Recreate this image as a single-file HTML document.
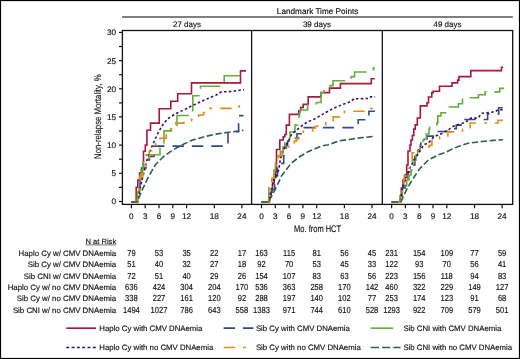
<!DOCTYPE html><html><head><meta charset="utf-8"><style>html,body{margin:0;padding:0;background:#fff;}svg{display:block}</style></head><body>
<svg width="520" height="359" viewBox="0 0 520 359" style="font-family:'Liberation Sans', sans-serif;text-rendering:geometricPrecision;will-change:transform">
<style>text{stroke:#111;stroke-width:0.15px}</style>
<rect x="0" y="0" width="520" height="359" fill="#fff"/>
<rect x="0.5" y="0.5" width="519" height="358" fill="none" stroke="#000" stroke-width="1.2"/>
<text x="317.6" y="14.2" font-size="8.2" text-anchor="middle" fill="#111">Landmark Time Points</text>
<line x1="122" y1="16.9" x2="512.8" y2="16.9" stroke="#555" stroke-width="1.5"/>
<text x="187.0" y="27.1" font-size="8" text-anchor="middle" fill="#111">27 days</text>
<text x="316.9" y="27.1" font-size="8" text-anchor="middle" fill="#111">39 days</text>
<text x="447.5" y="27.1" font-size="8" text-anchor="middle" fill="#111">49 days</text>
<rect x="122.4" y="30.5" width="390.3" height="173.9" fill="none" stroke="#111" stroke-width="1.3"/>
<line x1="251.6" y1="30.5" x2="251.6" y2="204.4" stroke="#111" stroke-width="1.3"/>
<line x1="382.3" y1="30.5" x2="382.3" y2="204.4" stroke="#111" stroke-width="1.3"/>
<line x1="119" y1="201.5" x2="122.4" y2="201.5" stroke="#111" stroke-width="1.2"/>
<text x="116" y="204.4" font-size="8.2" text-anchor="end" fill="#111">0</text>
<line x1="119" y1="187.4" x2="122.4" y2="187.4" stroke="#111" stroke-width="1.2"/>
<line x1="119" y1="173.3" x2="122.4" y2="173.3" stroke="#111" stroke-width="1.2"/>
<text x="116" y="176.2" font-size="8.2" text-anchor="end" fill="#111">5</text>
<line x1="119" y1="159.2" x2="122.4" y2="159.2" stroke="#111" stroke-width="1.2"/>
<line x1="119" y1="145.1" x2="122.4" y2="145.1" stroke="#111" stroke-width="1.2"/>
<text x="116" y="148.0" font-size="8.2" text-anchor="end" fill="#111">10</text>
<line x1="119" y1="131.0" x2="122.4" y2="131.0" stroke="#111" stroke-width="1.2"/>
<line x1="119" y1="116.9" x2="122.4" y2="116.9" stroke="#111" stroke-width="1.2"/>
<text x="116" y="119.8" font-size="8.2" text-anchor="end" fill="#111">15</text>
<line x1="119" y1="102.9" x2="122.4" y2="102.9" stroke="#111" stroke-width="1.2"/>
<line x1="119" y1="88.8" x2="122.4" y2="88.8" stroke="#111" stroke-width="1.2"/>
<text x="116" y="91.7" font-size="8.2" text-anchor="end" fill="#111">20</text>
<line x1="119" y1="74.7" x2="122.4" y2="74.7" stroke="#111" stroke-width="1.2"/>
<line x1="119" y1="60.6" x2="122.4" y2="60.6" stroke="#111" stroke-width="1.2"/>
<text x="116" y="63.5" font-size="8.2" text-anchor="end" fill="#111">25</text>
<line x1="119" y1="46.5" x2="122.4" y2="46.5" stroke="#111" stroke-width="1.2"/>
<line x1="119" y1="32.4" x2="122.4" y2="32.4" stroke="#111" stroke-width="1.2"/>
<text x="116" y="35.3" font-size="8.2" text-anchor="end" fill="#111">30</text>
<line x1="131.4" y1="204.4" x2="131.4" y2="208.2" stroke="#111" stroke-width="1.2"/>
<text x="131.4" y="218.8" font-size="8.2" text-anchor="middle" fill="#111">0</text>
<line x1="145.2" y1="204.4" x2="145.2" y2="208.2" stroke="#111" stroke-width="1.2"/>
<text x="145.2" y="218.8" font-size="8.2" text-anchor="middle" fill="#111">3</text>
<line x1="159.0" y1="204.4" x2="159.0" y2="208.2" stroke="#111" stroke-width="1.2"/>
<text x="159.0" y="218.8" font-size="8.2" text-anchor="middle" fill="#111">6</text>
<line x1="172.8" y1="204.4" x2="172.8" y2="208.2" stroke="#111" stroke-width="1.2"/>
<text x="172.8" y="218.8" font-size="8.2" text-anchor="middle" fill="#111">9</text>
<line x1="186.6" y1="204.4" x2="186.6" y2="208.2" stroke="#111" stroke-width="1.2"/>
<text x="186.6" y="218.8" font-size="8.2" text-anchor="middle" fill="#111">12</text>
<line x1="214.3" y1="204.4" x2="214.3" y2="208.2" stroke="#111" stroke-width="1.2"/>
<text x="214.3" y="218.8" font-size="8.2" text-anchor="middle" fill="#111">18</text>
<line x1="241.9" y1="204.4" x2="241.9" y2="208.2" stroke="#111" stroke-width="1.2"/>
<text x="241.9" y="218.8" font-size="8.2" text-anchor="middle" fill="#111">24</text>
<line x1="261.5" y1="204.4" x2="261.5" y2="208.2" stroke="#111" stroke-width="1.2"/>
<text x="261.5" y="218.8" font-size="8.2" text-anchor="middle" fill="#111">0</text>
<line x1="275.3" y1="204.4" x2="275.3" y2="208.2" stroke="#111" stroke-width="1.2"/>
<text x="275.3" y="218.8" font-size="8.2" text-anchor="middle" fill="#111">3</text>
<line x1="289.1" y1="204.4" x2="289.1" y2="208.2" stroke="#111" stroke-width="1.2"/>
<text x="289.1" y="218.8" font-size="8.2" text-anchor="middle" fill="#111">6</text>
<line x1="302.9" y1="204.4" x2="302.9" y2="208.2" stroke="#111" stroke-width="1.2"/>
<text x="302.9" y="218.8" font-size="8.2" text-anchor="middle" fill="#111">9</text>
<line x1="316.7" y1="204.4" x2="316.7" y2="208.2" stroke="#111" stroke-width="1.2"/>
<text x="316.7" y="218.8" font-size="8.2" text-anchor="middle" fill="#111">12</text>
<line x1="344.4" y1="204.4" x2="344.4" y2="208.2" stroke="#111" stroke-width="1.2"/>
<text x="344.4" y="218.8" font-size="8.2" text-anchor="middle" fill="#111">18</text>
<line x1="372.0" y1="204.4" x2="372.0" y2="208.2" stroke="#111" stroke-width="1.2"/>
<text x="372.0" y="218.8" font-size="8.2" text-anchor="middle" fill="#111">24</text>
<line x1="391.6" y1="204.4" x2="391.6" y2="208.2" stroke="#111" stroke-width="1.2"/>
<text x="391.6" y="218.8" font-size="8.2" text-anchor="middle" fill="#111">0</text>
<line x1="405.4" y1="204.4" x2="405.4" y2="208.2" stroke="#111" stroke-width="1.2"/>
<text x="405.4" y="218.8" font-size="8.2" text-anchor="middle" fill="#111">3</text>
<line x1="419.2" y1="204.4" x2="419.2" y2="208.2" stroke="#111" stroke-width="1.2"/>
<text x="419.2" y="218.8" font-size="8.2" text-anchor="middle" fill="#111">6</text>
<line x1="433.0" y1="204.4" x2="433.0" y2="208.2" stroke="#111" stroke-width="1.2"/>
<text x="433.0" y="218.8" font-size="8.2" text-anchor="middle" fill="#111">9</text>
<line x1="446.8" y1="204.4" x2="446.8" y2="208.2" stroke="#111" stroke-width="1.2"/>
<text x="446.8" y="218.8" font-size="8.2" text-anchor="middle" fill="#111">12</text>
<line x1="474.5" y1="204.4" x2="474.5" y2="208.2" stroke="#111" stroke-width="1.2"/>
<text x="474.5" y="218.8" font-size="8.2" text-anchor="middle" fill="#111">18</text>
<line x1="502.1" y1="204.4" x2="502.1" y2="208.2" stroke="#111" stroke-width="1.2"/>
<text x="502.1" y="218.8" font-size="8.2" text-anchor="middle" fill="#111">24</text>
<text x="0" y="0" font-size="9.6" text-anchor="middle" fill="#111" transform="translate(317.6 231.9) scale(0.78 1)">Mo. from HCT</text>
<text x="0" y="0" font-size="9.6" text-anchor="middle" fill="#111" transform="translate(101.3 116.7) rotate(-90) scale(0.81 1)">Non-relapse Mortality, %</text>
<text x="116.2" y="243.8" font-size="7.6" text-anchor="end" fill="#111">N at Risk</text>
<line x1="85.6" y1="244.9" x2="116.3" y2="244.9" stroke="#333" stroke-width="0.7"/>
<text x="116.2" y="255.8" font-size="7.85" text-anchor="end" fill="#111">Haplo Cy w/ CMV DNAemia</text>
<text x="0" y="0" font-size="8.7" text-anchor="middle" fill="#111" transform="translate(131.4 255.8) scale(0.87 1)">79</text>
<text x="0" y="0" font-size="8.7" text-anchor="middle" fill="#111" transform="translate(159.0 255.8) scale(0.87 1)">53</text>
<text x="0" y="0" font-size="8.7" text-anchor="middle" fill="#111" transform="translate(186.6 255.8) scale(0.87 1)">35</text>
<text x="0" y="0" font-size="8.7" text-anchor="middle" fill="#111" transform="translate(214.3 255.8) scale(0.87 1)">22</text>
<text x="0" y="0" font-size="8.7" text-anchor="middle" fill="#111" transform="translate(241.9 255.8) scale(0.87 1)">17</text>
<text x="0" y="0" font-size="8.7" text-anchor="middle" fill="#111" transform="translate(261.5 255.8) scale(0.87 1)">163</text>
<text x="0" y="0" font-size="8.7" text-anchor="middle" fill="#111" transform="translate(289.1 255.8) scale(0.87 1)">115</text>
<text x="0" y="0" font-size="8.7" text-anchor="middle" fill="#111" transform="translate(316.7 255.8) scale(0.87 1)">81</text>
<text x="0" y="0" font-size="8.7" text-anchor="middle" fill="#111" transform="translate(344.4 255.8) scale(0.87 1)">56</text>
<text x="0" y="0" font-size="8.7" text-anchor="middle" fill="#111" transform="translate(372.0 255.8) scale(0.87 1)">45</text>
<text x="0" y="0" font-size="8.7" text-anchor="middle" fill="#111" transform="translate(391.6 255.8) scale(0.87 1)">231</text>
<text x="0" y="0" font-size="8.7" text-anchor="middle" fill="#111" transform="translate(419.2 255.8) scale(0.87 1)">154</text>
<text x="0" y="0" font-size="8.7" text-anchor="middle" fill="#111" transform="translate(446.8 255.8) scale(0.87 1)">109</text>
<text x="0" y="0" font-size="8.7" text-anchor="middle" fill="#111" transform="translate(474.5 255.8) scale(0.87 1)">77</text>
<text x="0" y="0" font-size="8.7" text-anchor="middle" fill="#111" transform="translate(502.1 255.8) scale(0.87 1)">59</text>
<text x="116.2" y="267.2" font-size="7.85" text-anchor="end" fill="#111">Sib Cy w/ CMV DNAemia</text>
<text x="0" y="0" font-size="8.7" text-anchor="middle" fill="#111" transform="translate(131.4 267.2) scale(0.87 1)">51</text>
<text x="0" y="0" font-size="8.7" text-anchor="middle" fill="#111" transform="translate(159.0 267.2) scale(0.87 1)">40</text>
<text x="0" y="0" font-size="8.7" text-anchor="middle" fill="#111" transform="translate(186.6 267.2) scale(0.87 1)">32</text>
<text x="0" y="0" font-size="8.7" text-anchor="middle" fill="#111" transform="translate(214.3 267.2) scale(0.87 1)">27</text>
<text x="0" y="0" font-size="8.7" text-anchor="middle" fill="#111" transform="translate(241.9 267.2) scale(0.87 1)">18</text>
<text x="0" y="0" font-size="8.7" text-anchor="middle" fill="#111" transform="translate(261.5 267.2) scale(0.87 1)">92</text>
<text x="0" y="0" font-size="8.7" text-anchor="middle" fill="#111" transform="translate(289.1 267.2) scale(0.87 1)">70</text>
<text x="0" y="0" font-size="8.7" text-anchor="middle" fill="#111" transform="translate(316.7 267.2) scale(0.87 1)">53</text>
<text x="0" y="0" font-size="8.7" text-anchor="middle" fill="#111" transform="translate(344.4 267.2) scale(0.87 1)">45</text>
<text x="0" y="0" font-size="8.7" text-anchor="middle" fill="#111" transform="translate(372.0 267.2) scale(0.87 1)">33</text>
<text x="0" y="0" font-size="8.7" text-anchor="middle" fill="#111" transform="translate(391.6 267.2) scale(0.87 1)">122</text>
<text x="0" y="0" font-size="8.7" text-anchor="middle" fill="#111" transform="translate(419.2 267.2) scale(0.87 1)">93</text>
<text x="0" y="0" font-size="8.7" text-anchor="middle" fill="#111" transform="translate(446.8 267.2) scale(0.87 1)">70</text>
<text x="0" y="0" font-size="8.7" text-anchor="middle" fill="#111" transform="translate(474.5 267.2) scale(0.87 1)">56</text>
<text x="0" y="0" font-size="8.7" text-anchor="middle" fill="#111" transform="translate(502.1 267.2) scale(0.87 1)">41</text>
<text x="116.2" y="278.6" font-size="7.85" text-anchor="end" fill="#111">Sib CNI w/ CMV DNAemia</text>
<text x="0" y="0" font-size="8.7" text-anchor="middle" fill="#111" transform="translate(131.4 278.6) scale(0.87 1)">72</text>
<text x="0" y="0" font-size="8.7" text-anchor="middle" fill="#111" transform="translate(159.0 278.6) scale(0.87 1)">51</text>
<text x="0" y="0" font-size="8.7" text-anchor="middle" fill="#111" transform="translate(186.6 278.6) scale(0.87 1)">40</text>
<text x="0" y="0" font-size="8.7" text-anchor="middle" fill="#111" transform="translate(214.3 278.6) scale(0.87 1)">29</text>
<text x="0" y="0" font-size="8.7" text-anchor="middle" fill="#111" transform="translate(241.9 278.6) scale(0.87 1)">26</text>
<text x="0" y="0" font-size="8.7" text-anchor="middle" fill="#111" transform="translate(261.5 278.6) scale(0.87 1)">154</text>
<text x="0" y="0" font-size="8.7" text-anchor="middle" fill="#111" transform="translate(289.1 278.6) scale(0.87 1)">107</text>
<text x="0" y="0" font-size="8.7" text-anchor="middle" fill="#111" transform="translate(316.7 278.6) scale(0.87 1)">83</text>
<text x="0" y="0" font-size="8.7" text-anchor="middle" fill="#111" transform="translate(344.4 278.6) scale(0.87 1)">63</text>
<text x="0" y="0" font-size="8.7" text-anchor="middle" fill="#111" transform="translate(372.0 278.6) scale(0.87 1)">56</text>
<text x="0" y="0" font-size="8.7" text-anchor="middle" fill="#111" transform="translate(391.6 278.6) scale(0.87 1)">223</text>
<text x="0" y="0" font-size="8.7" text-anchor="middle" fill="#111" transform="translate(419.2 278.6) scale(0.87 1)">156</text>
<text x="0" y="0" font-size="8.7" text-anchor="middle" fill="#111" transform="translate(446.8 278.6) scale(0.87 1)">118</text>
<text x="0" y="0" font-size="8.7" text-anchor="middle" fill="#111" transform="translate(474.5 278.6) scale(0.87 1)">94</text>
<text x="0" y="0" font-size="8.7" text-anchor="middle" fill="#111" transform="translate(502.1 278.6) scale(0.87 1)">83</text>
<text x="116.2" y="290.0" font-size="7.85" text-anchor="end" fill="#111">Haplo Cy w/ no CMV DNAemia</text>
<text x="0" y="0" font-size="8.7" text-anchor="middle" fill="#111" transform="translate(131.4 290.0) scale(0.87 1)">636</text>
<text x="0" y="0" font-size="8.7" text-anchor="middle" fill="#111" transform="translate(159.0 290.0) scale(0.87 1)">424</text>
<text x="0" y="0" font-size="8.7" text-anchor="middle" fill="#111" transform="translate(186.6 290.0) scale(0.87 1)">304</text>
<text x="0" y="0" font-size="8.7" text-anchor="middle" fill="#111" transform="translate(214.3 290.0) scale(0.87 1)">204</text>
<text x="0" y="0" font-size="8.7" text-anchor="middle" fill="#111" transform="translate(241.9 290.0) scale(0.87 1)">170</text>
<text x="0" y="0" font-size="8.7" text-anchor="middle" fill="#111" transform="translate(261.5 290.0) scale(0.87 1)">536</text>
<text x="0" y="0" font-size="8.7" text-anchor="middle" fill="#111" transform="translate(289.1 290.0) scale(0.87 1)">363</text>
<text x="0" y="0" font-size="8.7" text-anchor="middle" fill="#111" transform="translate(316.7 290.0) scale(0.87 1)">258</text>
<text x="0" y="0" font-size="8.7" text-anchor="middle" fill="#111" transform="translate(344.4 290.0) scale(0.87 1)">170</text>
<text x="0" y="0" font-size="8.7" text-anchor="middle" fill="#111" transform="translate(372.0 290.0) scale(0.87 1)">142</text>
<text x="0" y="0" font-size="8.7" text-anchor="middle" fill="#111" transform="translate(391.6 290.0) scale(0.87 1)">460</text>
<text x="0" y="0" font-size="8.7" text-anchor="middle" fill="#111" transform="translate(419.2 290.0) scale(0.87 1)">322</text>
<text x="0" y="0" font-size="8.7" text-anchor="middle" fill="#111" transform="translate(446.8 290.0) scale(0.87 1)">229</text>
<text x="0" y="0" font-size="8.7" text-anchor="middle" fill="#111" transform="translate(474.5 290.0) scale(0.87 1)">149</text>
<text x="0" y="0" font-size="8.7" text-anchor="middle" fill="#111" transform="translate(502.1 290.0) scale(0.87 1)">127</text>
<text x="116.2" y="301.4" font-size="7.85" text-anchor="end" fill="#111">Sib Cy w/ no CMV DNAemia</text>
<text x="0" y="0" font-size="8.7" text-anchor="middle" fill="#111" transform="translate(131.4 301.4) scale(0.87 1)">338</text>
<text x="0" y="0" font-size="8.7" text-anchor="middle" fill="#111" transform="translate(159.0 301.4) scale(0.87 1)">227</text>
<text x="0" y="0" font-size="8.7" text-anchor="middle" fill="#111" transform="translate(186.6 301.4) scale(0.87 1)">161</text>
<text x="0" y="0" font-size="8.7" text-anchor="middle" fill="#111" transform="translate(214.3 301.4) scale(0.87 1)">120</text>
<text x="0" y="0" font-size="8.7" text-anchor="middle" fill="#111" transform="translate(241.9 301.4) scale(0.87 1)">92</text>
<text x="0" y="0" font-size="8.7" text-anchor="middle" fill="#111" transform="translate(261.5 301.4) scale(0.87 1)">288</text>
<text x="0" y="0" font-size="8.7" text-anchor="middle" fill="#111" transform="translate(289.1 301.4) scale(0.87 1)">197</text>
<text x="0" y="0" font-size="8.7" text-anchor="middle" fill="#111" transform="translate(316.7 301.4) scale(0.87 1)">140</text>
<text x="0" y="0" font-size="8.7" text-anchor="middle" fill="#111" transform="translate(344.4 301.4) scale(0.87 1)">102</text>
<text x="0" y="0" font-size="8.7" text-anchor="middle" fill="#111" transform="translate(372.0 301.4) scale(0.87 1)">77</text>
<text x="0" y="0" font-size="8.7" text-anchor="middle" fill="#111" transform="translate(391.6 301.4) scale(0.87 1)">253</text>
<text x="0" y="0" font-size="8.7" text-anchor="middle" fill="#111" transform="translate(419.2 301.4) scale(0.87 1)">174</text>
<text x="0" y="0" font-size="8.7" text-anchor="middle" fill="#111" transform="translate(446.8 301.4) scale(0.87 1)">123</text>
<text x="0" y="0" font-size="8.7" text-anchor="middle" fill="#111" transform="translate(474.5 301.4) scale(0.87 1)">91</text>
<text x="0" y="0" font-size="8.7" text-anchor="middle" fill="#111" transform="translate(502.1 301.4) scale(0.87 1)">68</text>
<text x="116.2" y="312.8" font-size="7.85" text-anchor="end" fill="#111">Sib CNI w/ no CMV DNAemia</text>
<text x="0" y="0" font-size="8.7" text-anchor="middle" fill="#111" transform="translate(131.4 312.8) scale(0.87 1)">1494</text>
<text x="0" y="0" font-size="8.7" text-anchor="middle" fill="#111" transform="translate(159.0 312.8) scale(0.87 1)">1027</text>
<text x="0" y="0" font-size="8.7" text-anchor="middle" fill="#111" transform="translate(186.6 312.8) scale(0.87 1)">786</text>
<text x="0" y="0" font-size="8.7" text-anchor="middle" fill="#111" transform="translate(214.3 312.8) scale(0.87 1)">643</text>
<text x="0" y="0" font-size="8.7" text-anchor="middle" fill="#111" transform="translate(241.9 312.8) scale(0.87 1)">558</text>
<text x="0" y="0" font-size="8.7" text-anchor="middle" fill="#111" transform="translate(261.5 312.8) scale(0.87 1)">1383</text>
<text x="0" y="0" font-size="8.7" text-anchor="middle" fill="#111" transform="translate(289.1 312.8) scale(0.87 1)">971</text>
<text x="0" y="0" font-size="8.7" text-anchor="middle" fill="#111" transform="translate(316.7 312.8) scale(0.87 1)">744</text>
<text x="0" y="0" font-size="8.7" text-anchor="middle" fill="#111" transform="translate(344.4 312.8) scale(0.87 1)">610</text>
<text x="0" y="0" font-size="8.7" text-anchor="middle" fill="#111" transform="translate(372.0 312.8) scale(0.87 1)">528</text>
<text x="0" y="0" font-size="8.7" text-anchor="middle" fill="#111" transform="translate(391.6 312.8) scale(0.87 1)">1293</text>
<text x="0" y="0" font-size="8.7" text-anchor="middle" fill="#111" transform="translate(419.2 312.8) scale(0.87 1)">922</text>
<text x="0" y="0" font-size="8.7" text-anchor="middle" fill="#111" transform="translate(446.8 312.8) scale(0.87 1)">709</text>
<text x="0" y="0" font-size="8.7" text-anchor="middle" fill="#111" transform="translate(474.5 312.8) scale(0.87 1)">579</text>
<text x="0" y="0" font-size="8.7" text-anchor="middle" fill="#111" transform="translate(502.1 312.8) scale(0.87 1)">501</text>
<line x1="66.3" y1="328.2" x2="96.1" y2="328.2" stroke="#a8173d" stroke-width="1.7" />
<text x="99.3" y="330.9" font-size="7.8" fill="#111">Haplo Cy with CMV DNAemia</text>
<line x1="223.6" y1="328.2" x2="253.4" y2="328.2" stroke="#2d4b8c" stroke-width="1.7" stroke-dasharray="11.4 8"/>
<text x="255.9" y="330.9" font-size="7.8" fill="#111">Sib Cy with CMV DNAemia</text>
<line x1="370.7" y1="328.2" x2="400.5" y2="328.2" stroke="#64ad3e" stroke-width="1.7" stroke-dasharray="22.4 8"/>
<text x="403.4" y="330.9" font-size="7.8" fill="#111">Sib CNI with CMV DNAemia</text>
<line x1="66.3" y1="347.5" x2="96.1" y2="347.5" stroke="#3f0f63" stroke-width="1.7" stroke-dasharray="3 2.3"/>
<text x="99.3" y="350.2" font-size="7.8" fill="#111">Haplo Cy with no CMV DNAemia</text>
<line x1="223.6" y1="347.5" x2="253.4" y2="347.5" stroke="#e08d14" stroke-width="1.7" stroke-dasharray="11.4 8 3 8"/>
<text x="255.9" y="350.2" font-size="7.8" fill="#111">Sib Cy with no CMV DNAemia</text>
<line x1="370.7" y1="347.5" x2="400.5" y2="347.5" stroke="#2b6148" stroke-width="1.7" stroke-dasharray="8.3 3"/>
<text x="403.4" y="350.2" font-size="7.8" fill="#111">Sib CNI with no CMV DNAemia</text>
<path d="M131.4,202 H136.2 V187.3 H137.8 V180 H139.6 V172.8 H141.6 V168 H143.5 V151.3 H145.3 V145.1 H146.9 V130.3 H150.5 V123.1 H159.2 V108.8 H170.8 V101.2 H177.7 V93.8 H191.5 V82.9 H240.5 V70.9 H246" fill="none" stroke="#a8173d" stroke-width="1.6" stroke-linejoin="miter" />
<path d="M261.5,202 H269.5 V197 H271.3 V190 H272.5 V183 H274.2 V177.8 H275.5 V172 H276.5 V149.5 H279.8 V140 H283.2 V136.7 H284.8 V134.5 H286.3 V125.1 H289.4 V114.4 H298.8 V110.7 H300.7 V107.5 H303.2 V104.4 H308.2 V96.9 H321.1 V92.6 H329.5 V88.1 H340.4 V83.6 H371.3 V78.7 H374.8" fill="none" stroke="#a8173d" stroke-width="1.6" stroke-linejoin="miter" />
<path d="M391.6,202 H400.3 V196 H401.3 V188 H403 V180 H405 V175 H406.7 V165 H408 V151 H410 V145 H411 V140 H412.4 V135.4 H413.8 V129.1 H415.2 V124.9 H417.3 V118 H420.3 V105.9 H427 V102.7 H428.5 V97 H431.8 V92.6 H433.2 V91.2 H439.5 V86.2 H452 V82.9 H457.6 V80.1 H459 V76.6 H470.8 V70.6 H501.5 V67.3 H503" fill="none" stroke="#a8173d" stroke-width="1.6" stroke-linejoin="miter" />
<path d="M131.4,202 H137.5 V190 H140 V178 H142 V168 H146 V160 H149.4 V156.4 H154 V146.1 H228 V131.8 H238.6 V115.6 H243.5" fill="none" stroke="#2d4b8c" stroke-width="1.6" stroke-linejoin="miter" stroke-dasharray="11.4 8"/>
<path d="M261.5,202 H269 V195 H272 V189.5 H274.7 V184.6 H276.1 V176 H277.5 V168 H280 V163.4 H283.7 V155.6 H286 V146 H287.6 V141.1 H290 V138.2 H297 V133.8 H302.6 V127.6 H358.2 V119.8 H368.9 V111.3 H375" fill="none" stroke="#2d4b8c" stroke-width="1.6" stroke-linejoin="miter" stroke-dasharray="11.4 8"/>
<path d="M391.6,202 H400.3 V195 H402.3 V188 H405 V180 H408 V172 H411 V165 H414.9 V156.3 H418 V150 H420.3 V145.4 H420.8 V141 H422 V139 H427 V136.1 H433.3 V131.5 H447.9 V128.6 H456.3 V125.1 H463.2 V119.5 H487.6 V113.9 H498.7 V107.7 H503.6" fill="none" stroke="#2d4b8c" stroke-width="1.6" stroke-linejoin="miter" stroke-dasharray="11.4 8"/>
<path d="M131.4,202 H137.5 V192 H139 V180 H141 V170 H143 V162 H146.3 V154.8 H160 V147 H164 V130.9 H171.4 V127.3 H177 V115.5 H192.8 V95.8 H200.5 V86.2 H224.2 V75.7 H241.8" fill="none" stroke="#64ad3e" stroke-width="1.6" stroke-linejoin="miter" stroke-dasharray="22.4 8"/>
<path d="M261.5,202 H268.8 V186.6 H271.7 V179.7 H274 V170 H275.4 V163.4 H278 V156 H280.4 V151.2 H283 V147 H284.8 V142.8 H287 V138 H290 V132 H295 V125.1 H297.6 V117 H299.4 V113.2 H300 V110 H307.6 V103.8 H316.4 V102.5 H321.1 V92.6 H324 V89 H330.2 V85.6 H333 V80.8 H351.1 V76.6 H354.6 V72 H373.4 V67.8 H375" fill="none" stroke="#64ad3e" stroke-width="1.6" stroke-linejoin="miter" stroke-dasharray="22.4 8"/>
<path d="M391.6,202 H400.3 V196 H402.3 V190 H404.5 V186 H406.7 V180 H409 V175 H411 V170 H412.2 V165 H414 V160 H416 V155 H417.6 V150.9 H420 V146 H423 V140 H424.2 V139 H426.3 V134 H429 V129 H429.8 V125 H436.8 V122.9 H437.8 V115.9 H441 V112.8 H447.9 V107 H458.4 V103.7 H462.5 V97.7 H478.5 V94.7 H485.2 V91.9 H499.8 V88.4 H504" fill="none" stroke="#64ad3e" stroke-width="1.6" stroke-linejoin="miter" stroke-dasharray="22.4 8"/>
<path d="M131.4,202 L137.5,202 L142,180 L147,160 L152.5,145.1 L158.5,132 L163,124.5 L168,118.5 L174,114.8 L179,112 L185,109.4 L189,107.2 L195.4,104.2 L205.4,99.6 L216.2,95 L221.5,91.9 L231.5,91.5 L244,89.6" fill="none" stroke="#3f0f63" stroke-width="1.6" stroke-linejoin="miter" stroke-dasharray="2.5 2.3"/>
<path d="M261.5,202 L268.6,202 L271,190 L274,180 L278.7,170 L280.4,159 L284.8,146.7 L288.7,140.6 L291.5,134.5 L295,131.3 L302.6,125.1 L308.8,121.3 L315.1,118.8 L321.4,115 L328.9,110.7 L332.5,108.8 L341.3,105 L351.3,101.3 L353.8,98.8 L368.9,98.5 L370.7,96.9 L375.1,96.9" fill="none" stroke="#3f0f63" stroke-width="1.6" stroke-linejoin="miter" stroke-dasharray="2.5 2.3"/>
<path d="M391.6,202 L400.3,202 L403.1,185.3 L410.4,167.2 L414,160 L421.2,149 L423.6,145 L428.5,142.7 L434,136.8 L442.4,133.3 L449.3,129.1 L452.8,126.5 L458.4,124.4 L465.3,122.3 L470.9,118.1 L477.9,118.1 L482,113.2 L494.6,111.8 L498.7,109.7 L503,109.7" fill="none" stroke="#3f0f63" stroke-width="1.6" stroke-linejoin="miter" stroke-dasharray="2.5 2.3"/>
<path d="M131.4,202 H137.5 V190 H140 V176 H143 V165 H146 V158 H149.4 V150.7 H155.7 V143.5 H160 V138.2 H166.3 V134.6 H170.7 V127.5 H175.7 V123.1 H183.9 V120.6 H191.5 V119.2 H198.5 V115 H203.4 V112.5 H208 V108.4 H239 V106 H242" fill="none" stroke="#e08d14" stroke-width="1.6" stroke-linejoin="miter" stroke-dasharray="11.4 8 3 8"/>
<path d="M261.5,202 H268.6 V194 H270.5 V184 H272 V178 H274 V170 H276 V163 H278.7 V155.6 H282 V151.2 H286 V146.7 H289.3 V143 H294.3 V141.1 H296.5 V138.9 H298.8 V136.7 H303.2 V131.3 H312.6 V128.2 H315 V126.5 H317.6 V125 H325.8 V122.6 H333.1 V116.9 H339.4 V115 H344.4 V111.3 H366.4 V108.5 H374.8" fill="none" stroke="#e08d14" stroke-width="1.6" stroke-linejoin="miter" stroke-dasharray="11.4 8 3 8"/>
<path d="M391.6,202 H400.3 V195 H402.3 V186 H404 V176 H407 V168 H410 V161 H412.2 V152.7 H414.9 V150 H420 V147 H429.4 V145.4 H431.9 V139.6 H439.6 V136.8 H447.9 V131.9 H462.5 V129.2 H470.2 V123 H498 V120.2 H503" fill="none" stroke="#e08d14" stroke-width="1.6" stroke-linejoin="miter" stroke-dasharray="11.4 8 3 8"/>
<path d="M131.6,202 L137,202 L142.2,190 L148.4,177 L155.6,164.5 L163.4,156.7 L171.2,151.1 L181.3,145.1 L192.6,140.1 L203.4,136.9 L215.9,134.1 L228.4,132.3 L243.5,130.3" fill="none" stroke="#2b6148" stroke-width="1.6" stroke-linejoin="miter" stroke-dasharray="6.3 2.6"/>
<path d="M261.6,202 L269.3,202 L269.8,199.2 L273.7,192.4 L277.6,184.6 L281.5,175.8 L286,170 L291,163.4 L295.4,160 L300,156.5 L307.9,151.8 L320.5,146.3 L328.4,144.7 L339.4,140.8 L348.9,139.5 L359.9,137.9 L372.6,136.5" fill="none" stroke="#2b6148" stroke-width="1.6" stroke-linejoin="miter" stroke-dasharray="6.3 2.6"/>
<path d="M391.7,202 L400.8,202 L403.3,196.4 L408.3,186.3 L414.6,176.3 L419.6,168.8 L428.5,159.9 L439.3,154.5 L444.8,152.7 L452.8,148.7 L459.7,146 L468.1,143.2 L479.2,141.8 L493.2,140.4 L503,139.7" fill="none" stroke="#2b6148" stroke-width="1.6" stroke-linejoin="miter" stroke-dasharray="6.3 2.6"/>
</svg></body></html>
